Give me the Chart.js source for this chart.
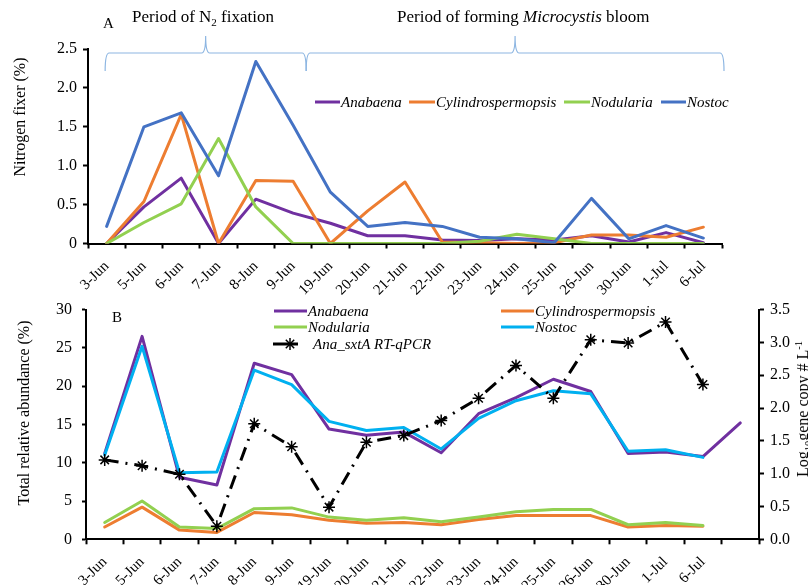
<!DOCTYPE html>
<html>
<head>
<meta charset="utf-8">
<script src="https://cdn.jsdelivr.net/npm/chart.js@4.4.0/dist/chart.umd.min.js"></script>
<style>
  body { margin: 0; width: 808px; height: 585px; overflow: hidden; background: #fff; position: relative;
         font-family: 'Liberation Serif', 'Times New Roman', serif; color: #000; }
  .panel { position: absolute; left: 0; width: 808px; }
  #panelA { top: 0; height: 300px; }
  #panelB { top: 290px; height: 305px; }
  .txt { position: absolute; white-space: nowrap; line-height: 1; }
  .vtitle { position: absolute; white-space: nowrap; font-size: 16px; line-height: 16px;
            transform: translate(-50%, -50%) rotate(-90deg); }
  .key { position: absolute; height: 3px; transform: translateY(-50%); }
  .keytxt { position: absolute; font-style: italic; font-size: 15px; line-height: 15px; white-space: nowrap;
            transform: translateY(-50%); }
  sub, sup { font-size: 65%; line-height: 0; }
</style>
</head>
<body>
<div class="panel" id="panelA"><canvas id="chartA"></canvas></div>
<div class="panel" id="panelB"><canvas id="chartB"></canvas></div>

<div class="txt" style="left:132px; top:8px; font-size:17px;">Period of N<sub>2</sub> fixation</div>
<div class="txt" style="left:397px; top:8px; font-size:17px;">Period of forming <i>Microcystis</i> bloom</div>
<div class="txt" style="left:103px; top:16px; font-size:15px;">A</div>
<div class="txt" style="left:112px; top:310px; font-size:15px;">B</div>

<div class="vtitle" style="left:20px; top:117px;">Nitrogen fixer (%)</div>
<div class="vtitle" style="left:24px; top:413px;">Total relative abundance (%)</div>
<div class="vtitle" style="left:803px; top:409px;">Log<sub>10</sub>gene copy # L<sup>-1</sup></div>

<!-- legend, panel A -->
<div class="key" style="left:315px; top:102px; width:25px; background:#7030A0;"></div>
<div class="keytxt" style="left:341px; top:102px;">Anabaena</div>
<div class="key" style="left:409px; top:102px; width:26px; background:#ED7D31;"></div>
<div class="keytxt" style="left:436px; top:102px;">Cylindrospermopsis</div>
<div class="key" style="left:564px; top:102px; width:26px; background:#92D050;"></div>
<div class="keytxt" style="left:591px; top:102px;">Nodularia</div>
<div class="key" style="left:661px; top:102px; width:25px; background:#4472C4;"></div>
<div class="keytxt" style="left:687px; top:102px;">Nostoc</div>

<!-- legend, panel B -->
<div class="key" style="left:274px; top:311px; width:33px; background:#7030A0;"></div>
<div class="keytxt" style="left:308px; top:311px;">Anabaena</div>
<div class="key" style="left:501px; top:311px; width:33px; background:#ED7D31;"></div>
<div class="keytxt" style="left:535px; top:311px;">Cylindrospermopsis</div>
<div class="key" style="left:274px; top:327px; width:33px; background:#92D050;"></div>
<div class="keytxt" style="left:308px; top:327px;">Nodularia</div>
<div class="key" style="left:501px; top:327px; width:33px; background:#00B0F0;"></div>
<div class="keytxt" style="left:535px; top:327px;">Nostoc</div>
<svg style="position:absolute; left:273px; top:337px;" width="26" height="14">
  <line x1="0" y1="7" x2="25" y2="7" stroke="#000" stroke-width="3"/>
  <g stroke="#000" stroke-width="1.5">
    <line x1="17" y1="1" x2="17" y2="13"/><line x1="11" y1="7" x2="23" y2="7"/>
    <line x1="12.8" y1="2.8" x2="21.2" y2="11.2"/><line x1="12.8" y1="11.2" x2="21.2" y2="2.8"/>
  </g>
</svg>
<div class="keytxt" style="left:313px; top:344px;">Ana_sxtA RT-qPCR</div>

<script>
const FONT = "'Liberation Serif', 'Times New Roman', serif";

// sampling dates
const days = ['3-Jun', '5-Jun', '6-Jun', '7-Jun', '8-Jun', '9-Jun', '19-Jun', '20-Jun', '21-Jun',
  '22-Jun', '23-Jun', '24-Jun', '25-Jun', '26-Jun', '30-Jun', '1-Jul', '6-Jul'];
const daysB = [...days, ''];

// A: nitrogen fixers (%)
const fixAnabaena = [0, 0.47, 0.84, 0, 0.57, 0.39, 0.26, 0.10, 0.10, 0.045, 0.04, 0.06, 0.045, 0.10, 0.02, 0.14, 0.01];
const fixCylindro = [0, 0.54, 1.66, 0, 0.81, 0.80, 0, 0.42, 0.79, 0.02, 0.01, 0, 0.01, 0.11, 0.11, 0.08, 0.21];
const fixNodularia = [0, 0.27, 0.51, 1.35, 0.47, 0, 0, 0, 0, 0, 0.03, 0.12, 0.06, 0, 0, 0, 0];
const fixNostoc = [0.22, 1.50, 1.68, 0.87, 2.34, 1.52, 0.66, 0.22, 0.27, 0.22, 0.08, 0.06, 0.01, 0.58, 0.06, 0.23, 0.07];

// B: total relative abundance (%) and sxtA copies (log10 / L)
const abAnabaena = [11.2, 26.5, 8.1, 7.1, 23.0, 21.5, 14.4, 13.6, 14.0, 11.3, 16.4, 18.5, 20.9, 19.3, 11.2, 11.4, 10.8, 15.2];
const abCylindro = [1.6, 4.2, 1.2, 0.9, 3.5, 3.2, 2.5, 2.1, 2.2, 1.9, 2.6, 3.1, 3.1, 3.1, 1.6, 1.8, 1.7];
const abNodularia = [2.2, 5.0, 1.6, 1.4, 4.0, 4.1, 2.9, 2.5, 2.8, 2.3, 2.9, 3.6, 3.9, 3.9, 1.9, 2.2, 1.8];
const abNostoc = [11.0, 25.2, 8.7, 8.8, 22.1, 20.2, 15.4, 14.2, 14.6, 11.8, 15.8, 18.1, 19.4, 19.0, 11.5, 11.7, 10.7];
const sxtA = [1.21, 1.12, 0.99, 0.20, 1.76, 1.41, 0.49, 1.48, 1.58, 1.81, 2.15, 2.65, 2.15, 3.04, 2.99, 3.31, 2.36];

const line = (label, data, color, order) => ({
  label, data, order,
  borderColor: color, backgroundColor: color,
  borderWidth: 3, pointRadius: 0, tension: 0,
  borderJoinStyle: 'round', borderCapStyle: 'round'
});

const tickGrid = (len) => ({
  drawOnChartArea: false, drawTicks: true, tickLength: len, tickColor: '#000', tickWidth: 2
});

const xAxis = (h) => ({
  type: 'category',
  offset: true,
  grid: { ...tickGrid(5), offset: true },
  border: { color: '#000', width: 2 },
  ticks: { color: '#000', font: { family: FONT, size: 15 }, minRotation: 45, maxRotation: 45, autoSkip: false, padding: 9 },
  afterFit: (s) => { s.height = h; }
});

// curly brace over a date range
function drawBrace(ctx, x1, x2, yLine, yTip, yFoot) {
  const xm = (x1 + x2) / 2;
  ctx.save();
  ctx.strokeStyle = '#8DB6E2';
  ctx.lineWidth = 1.2;
  ctx.beginPath();
  ctx.moveTo(x1, yFoot);
  ctx.quadraticCurveTo(x1, yLine, x1 + 4, yLine);
  ctx.lineTo(xm - 4, yLine);
  ctx.quadraticCurveTo(xm, yLine, xm, yTip);
  ctx.quadraticCurveTo(xm, yLine, xm + 4, yLine);
  ctx.lineTo(x2 - 4, yLine);
  ctx.quadraticCurveTo(x2, yLine, x2, yFoot);
  ctx.stroke();
  ctx.restore();
}

const periodBraces = {
  id: 'periodBraces',
  afterDraw(chart) {
    const x = chart.scales.x;
    const p5 = x.getPixelForValue(5), p6 = x.getPixelForValue(6);
    const split = p5 + 0.35 * (p6 - p5);
    drawBrace(chart.ctx, x.getPixelForValue(0) - 1.5, split, 53, 36, 71);
    drawBrace(chart.ctx, split, chart.chartArea.right + 2, 53, 36, 71);
  }
};

new Chart(document.getElementById('chartA'), {
  type: 'line',
  data: {
    labels: days,
    datasets: [
      line('Anabaena', fixAnabaena, '#7030A0', 3),
      line('Cylindrospermopsis', fixCylindro, '#ED7D31', 2),
      line('Nodularia', fixNodularia, '#92D050', 1),
      line('Nostoc', fixNostoc, '#4472C4', 0)
    ]
  },
  options: {
    responsive: true,
    maintainAspectRatio: false,
    animation: false,
    layout: { padding: { top: 49, right: 86, left: 0, bottom: 0 } },
    plugins: { legend: { display: false }, tooltip: { enabled: false } },
    scales: {
      x: xAxis(56.5),
      y: {
        min: 0, max: 2.5,
        ticks: { stepSize: 0.5, color: '#000', font: { family: FONT, size: 16 }, padding: 6 },
        grid: tickGrid(5),
        border: { color: '#000', width: 2 },
        afterFit: (s) => { s.width = 88; }
      }
    }
  },
  plugins: [periodBraces]
});

new Chart(document.getElementById('chartB'), {
  type: 'line',
  data: {
    labels: daysB,
    datasets: [
      line('Anabaena', abAnabaena, '#7030A0', 4),
      line('Cylindrospermopsis', abCylindro, '#ED7D31', 3),
      line('Nodularia', abNodularia, '#92D050', 2),
      line('Nostoc', abNostoc, '#00B0F0', 1),
      {
        label: 'Ana_sxtA RT-qPCR', data: sxtA, yAxisID: 'y2', order: 0,
        borderColor: '#000', backgroundColor: 'transparent',
        borderWidth: 3, borderDash: [14, 7, 2, 7], tension: 0,
        pointStyle: 'star', pointRadius: 6, pointBorderWidth: 1.5, pointBorderColor: '#000'
      }
    ]
  },
  options: {
    responsive: true,
    maintainAspectRatio: false,
    animation: false,
    layout: { padding: { top: 18.3, right: 0, left: 0, bottom: 0 } },
    plugins: { legend: { display: false }, tooltip: { enabled: false } },
    scales: {
      x: xAxis(55.7),
      y: {
        min: 0, max: 30,
        ticks: { stepSize: 5, color: '#000', font: { family: FONT, size: 16 }, padding: 10 },
        grid: tickGrid(4),
        border: { color: '#000', width: 2 },
        afterFit: (s) => { s.width = 86; }
      },
      y2: {
        position: 'right',
        min: 0, max: 3.5,
        ticks: { stepSize: 0.5, color: '#000', font: { family: FONT, size: 16 }, padding: 6,
                 callback: (v) => v.toFixed(1) },
        grid: tickGrid(5),
        border: { color: '#000', width: 2 },
        afterFit: (s) => { s.width = 49; }
      }
    }
  }
});
</script>
</body>
</html>
